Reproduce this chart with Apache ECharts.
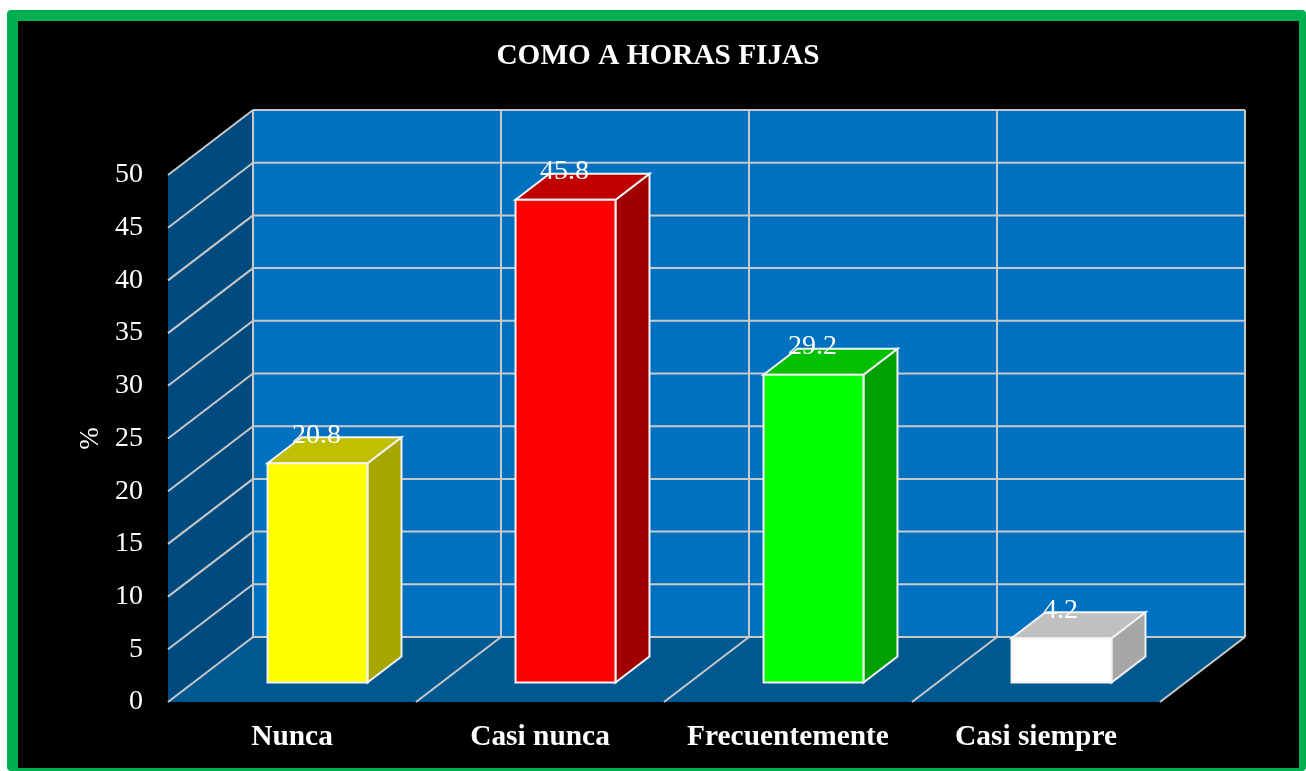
<!DOCTYPE html>
<html>
<head>
<meta charset="utf-8">
<style>
  html, body { margin: 0; padding: 0; background: #fff; }
  #chart { width: 1306px; height: 771px; }
</style>
<script src="https://cdn.jsdelivr.net/npm/echarts@6/dist/echarts.min.js"></script>
</head>
<body>
<div id="chart"></div>
<script>
const categories = ['Nunca', 'Casi nunca', 'Frecuentemente', 'Casi siempre']
const values = [20.8, 45.8, 29.2, 4.2]
const yTicks = [0, 5, 10, 15, 20, 25, 30, 35, 40, 45, 50]

const titleText = 'COMO A HORAS FIJAS'
const yName = '%'

const frontColors = ['#ffff00', '#ff0000', '#00ff00', '#ffffff']
const topColors = ['#c0c000', '#c00000', '#00c000', '#c0c0c0']
const sideColors = ['#a6a600', '#a00000', '#00a000', '#a6a6a6']

// fake 3d: how far the back wall sits from the front plane
const depthX = 85
const depthY = -65
const fontName = '"Liberation Serif", serif'
const gridColor = '#c8c8c8'
const barEdge = '#f2f2f2'

function poly(points, fill, stroke, lineWidth) {
  return {
    type: 'polygon',
    shape: { points: points },
    style: { fill: fill, stroke: stroke || null, lineWidth: lineWidth || 0 },
    silent: true
  }
}

function line(a, b) {
  return {
    type: 'line',
    shape: { x1: a[0], y1: a[1], x2: b[0], y2: b[1] },
    style: { stroke: gridColor, lineWidth: 2 },
    silent: true
  }
}

function back(p) {
  return [p[0] + depthX, p[1] + depthY]
}

function renderWalls(params, api) {
  const band = api.size([1, 0])[0]
  const first = api.coord([0, 0])
  const left = first[0] - band / 2
  const right = left + band * categories.length
  const y0 = first[1]
  const yTop = api.coord([0, yTicks[yTicks.length - 1]])[1]
  const children = [
    // back wall
    poly([back([left, yTop]), back([right, yTop]), back([right, y0]), back([left, y0])], '#0070c0'),
    // side wall
    poly([[left, yTop], back([left, yTop]), back([left, y0]), [left, y0]], '#004a7f'),
    // floor
    poly([[left, y0], back([left, y0]), back([right, y0]), [right, y0]], '#005891')
  ]
  yTicks.forEach(function (t) {
    const y = api.coord([0, t])[1]
    if (t > 0) children.push(line([left, y], back([left, y])))
    children.push(line(back([left, y]), back([right, y])))
  })
  for (let i = 0; i <= categories.length; i++) {
    const x = left + band * i
    children.push(line([x, y0], back([x, y0])))
    children.push(line(back([x, y0]), back([x, yTop])))
  }
  return { type: 'group', children: children }
}

function renderBar(params, api) {
  const i = api.value(0)
  const v = api.value(1)
  const band = api.size([1, 0])[0]
  const barW = band * 0.403
  const startZ = 0.3
  const barZ = 0.4
  const base = api.coord([i, 0])
  const top = api.coord([i, v])
  const l = base[0] + depthX * startZ - barW / 2
  const r = l + barW
  const b = base[1] + depthY * startZ
  const t = top[1] + depthY * startZ
  const dx = depthX * barZ
  const dy = depthY * barZ
  return {
    type: 'group',
    children: [
      poly([[r, t], [r + dx, t + dy], [r + dx, b + dy], [r, b]], sideColors[i], barEdge, 2),
      poly([[l, t], [l + dx, t + dy], [r + dx, t + dy], [r, t]], topColors[i], barEdge, 2),
      poly([[l, t], [r, t], [r, b], [l, b]], frontColors[i], barEdge, 2),
      {
        type: 'text',
        x: (l + r) / 2 - 1,
        y: t - 28,
        silent: true,
        style: {
          text: String(v),
          fill: '#ffffff',
          font: '28px ' + fontName,
          align: 'center',
          verticalAlign: 'middle'
        }
      }
    ]
  }
}

const chart = echarts.init(document.getElementById('chart'))
chart.setOption({
  animation: false,
  graphic: [{
    type: 'group',
    z: -10,
    children: [
      { type: 'rect', shape: { x: 7, y: 10, width: 1299, height: 761, r: 4 }, style: { fill: '#00b050' } },
      { type: 'rect', shape: { x: 18, y: 21, width: 1281, height: 747 }, style: { fill: '#000000' } }
    ]
  }],
  title: {
    text: titleText,
    left: 653,
    top: 37,
    textAlign: 'center',
    textStyle: { color: '#ffffff', fontFamily: fontName, fontWeight: 'bold', fontSize: 29.3 }
  },
  grid: { left: 168, right: 146, top: 175, bottom: 69 },
  xAxis: {
    type: 'category',
    data: categories,
    axisLine: { show: false },
    axisTick: { show: false },
    splitLine: { show: false },
    axisLabel: {
      color: '#ffffff',
      fontFamily: fontName,
      fontWeight: 'bold',
      fontSize: 29.4,
      margin: 21,
      interval: 0
    }
  },
  yAxis: {
    type: 'value',
    min: 0,
    max: 50,
    interval: 5,
    name: yName,
    nameLocation: 'middle',
    nameGap: 61,
    nameRotate: 90,
    nameTextStyle: { color: '#ffffff', fontFamily: fontName, fontSize: 27 },
    axisLine: { show: false },
    axisTick: { show: false },
    splitLine: { show: false },
    axisLabel: { color: '#ffffff', fontFamily: fontName, fontSize: 28, margin: 25 }
  },
  series: [
    {
      type: 'custom',
      name: 'walls',
      data: [[0, 0]],
      renderItem: renderWalls,
      silent: true,
      z: 1
    },
    {
      type: 'custom',
      name: 'bars',
      data: values.map(function (v, i) { return [i, v] }),
      renderItem: renderBar,
      silent: true,
      z: 2
    }
  ]
})
</script>
</body>
</html>
